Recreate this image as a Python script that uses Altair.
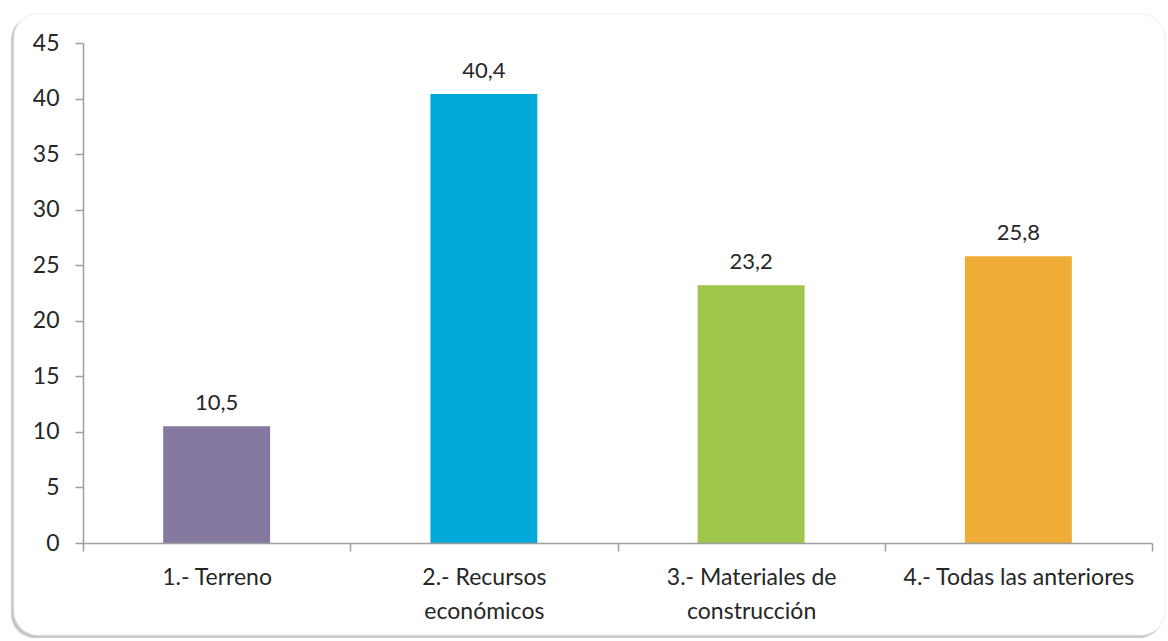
import altair as alt
import pandas as pd

categories = ["1.- Terreno", "2.- Recursos|económicos", "3.- Materiales de|construcción", "4.- Todas las anteriores"]
values = [10.5, 40.4, 23.2, 25.8]
colors = ["#85799F", "#00A9D7", "#9FC54B", "#EFAD37"]
y_ticks = [0, 5, 10, 15, 20, 25, 30, 35, 40, 45]

df = pd.DataFrame({"cat": categories, "val": values})

W, H = 1069, 500
FONT = "Lato"

frame_shadow = alt.Chart(pd.DataFrame({"a": [0]})).mark_rect(
    cornerRadius=24, color="#9a9a9a", opacity=0.55
).encode(x=alt.value(-72), x2=alt.value(1080), y=alt.value(-27), y2=alt.value(95 + H))

frame = alt.Chart(pd.DataFrame({"a": [0]})).mark_rect(
    cornerRadius=24, color="white", stroke="#eeeeee", strokeWidth=1
).encode(x=alt.value(-69), x2=alt.value(1082), y=alt.value(-29), y2=alt.value(92 + H))

xenc = alt.X(
    "cat:N", sort=categories, title=None,
    scale=alt.Scale(paddingInner=0, paddingOuter=0),
    axis=alt.Axis(
        labelAngle=0, labelExpr="split(datum.label, '|')", labelFont=FONT,
        labelFontSize=23, labelColor="#262626", labelPadding=15, labelLineHeight=34,
        labelLimit=0,
        tickBand="extent", tickSize=8, tickColor="#9e9e9e", domainColor="#9e9e9e",
        domainWidth=1.5, tickWidth=1.5, labelBaseline="top", zindex=1,
    ),
)

bars = alt.Chart(df).mark_bar(width=alt.RelativeBandSize(0.4)).encode(
    x=xenc,
    y=alt.Y("val:Q", title=None,
            scale=alt.Scale(domain=[0, 45], nice=False),
            axis=alt.Axis(values=y_ticks, grid=False, labelFont=FONT, labelFontSize=23,
                          labelColor="#262626", labelPadding=16, tickSize=8,
                          tickColor="#9e9e9e", domainColor="#9e9e9e",
                          domainWidth=1.5, tickWidth=1.5, zindex=1)),
    color=alt.Color("cat:N", sort=categories, legend=None,
                    scale=alt.Scale(domain=categories, range=colors)),
)

texts = alt.Chart(df).transform_calculate(
    lab="replace(format(datum.val, '.1f'), '.', ',')"
).mark_text(font=FONT, fontSize=22, color="#262626", baseline="bottom", dy=-11).encode(
    x=alt.X("cat:N", sort=categories),
    y=alt.Y("val:Q"),
    text="lab:N",
)

chart = alt.layer(frame_shadow, frame, bars, texts).properties(
    width=W, height=H,
    padding={"left": 83, "top": 43, "right": 16, "bottom": 98},
    autosize=alt.AutoSizeParams(type="none"),
    background="white",
).configure_view(stroke=None)

chart.save("out.html", embed_options={"renderer": "svg", "actions": False})
